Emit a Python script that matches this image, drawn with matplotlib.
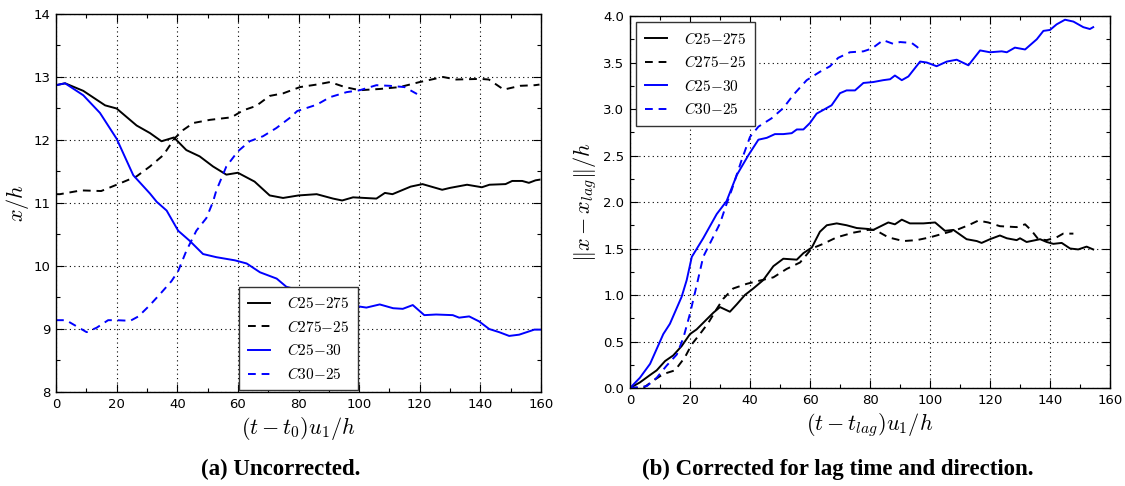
import matplotlib
matplotlib.use("Agg")
import matplotlib.pyplot as plt
from matplotlib.ticker import MultipleLocator, FormatStrFormatter

plt.rcParams['mathtext.fontset'] = 'cm'
plt.rcParams['font.family'] = ['DejaVu Sans']

# ---------------- Panel (a): uncorrected ----------------
a_c25_275_x = [0, 3, 9, 16.2, 20, 26.6, 31, 34.8, 38.9, 43, 47.4, 51.8, 56.2, 60, 65.5, 70.5, 74.9,
               80, 86, 91.4, 94.4, 98, 105.7, 108.5, 111, 117, 120.9, 127.4, 130, 135.6, 140.5,
               143, 148.3, 150.5, 153.8, 156, 158.2, 159.5]
a_c25_275_y = [12.87, 12.9, 12.78, 12.55, 12.5, 12.23, 12.11, 11.98, 12.04, 11.84, 11.74, 11.58, 11.45,
               11.48, 11.34, 11.12, 11.08, 11.12, 11.14, 11.07, 11.04, 11.09, 11.07, 11.16, 11.14,
               11.26, 11.3, 11.21, 11.24, 11.29, 11.25, 11.29, 11.3, 11.35, 11.35, 11.32, 11.36, 11.37]

a_c275_25_x = [0, 1.3, 8.3, 14.9, 20, 26.5, 31, 35.4, 39.2, 42, 45.3, 50.8, 57.9, 61.7, 66, 70.5, 74.9,
               80.5, 86, 90.4, 95.3, 100.2, 106.8, 113.4, 120, 127.7, 132, 140, 142.8, 147.7, 153.1, 158, 159.5]
a_c275_25_y = [11.14, 11.14, 11.2, 11.19, 11.29, 11.42, 11.58, 11.76, 12.03, 12.16, 12.27, 12.32, 12.36,
               12.47, 12.54, 12.7, 12.74, 12.84, 12.88, 12.92, 12.84, 12.79, 12.81, 12.84, 12.92, 13.0,
               12.96, 12.97, 12.96, 12.8, 12.86, 12.87, 12.88]

a_c25_30_x = [0, 3, 9, 14.5, 20, 25.5, 31, 33.2, 36.5, 40.3, 44.1, 48.5, 52.9, 59, 62.9, 67.3, 72.8, 76,
              80, 85, 90, 95, 99.6, 102.4, 106.8, 111.2, 114.4, 117.7, 121.5, 125.4, 130.9, 133, 136.3,
              139.6, 142.9, 146.2, 149.5, 152.8, 157.8, 160]
a_c25_30_y = [12.87, 12.9, 12.71, 12.43, 12.02, 11.44, 11.15, 11.02, 10.88, 10.56, 10.4, 10.19, 10.14,
              10.09, 10.04, 9.9, 9.8, 9.67, 9.62, 9.55, 9.48, 9.42, 9.36, 9.34, 9.39, 9.33, 9.32, 9.38,
              9.22, 9.23, 9.22, 9.18, 9.2, 9.12, 9.0, 8.95, 8.89, 8.91, 8.99, 8.99]

a_c30_25_x = [0, 3.3, 10.1, 13.4, 17.2, 20, 24.5, 27.2, 31, 34.8, 38.1, 40.3, 43, 46.3, 49.6, 51.8, 52.9,
              56.2, 60, 63.9, 68.3, 72.7, 77.1, 79.6, 86, 90.4, 95.9, 100.2, 105.7, 110.1, 115, 119.1]
a_c30_25_y = [9.14, 9.14, 8.95, 9.02, 9.14, 9.14, 9.13, 9.2, 9.38, 9.58, 9.76, 9.92, 10.24, 10.56, 10.76,
              11.02, 11.2, 11.58, 11.82, 11.98, 12.06, 12.19, 12.35, 12.46, 12.56, 12.68, 12.76, 12.79,
              12.87, 12.86, 12.84, 12.73]

# ---------------- Panel (b): corrected ----------------
b_c25_275_x = [0, 3.3, 6.7, 8.9, 11.7, 14.4, 17.2, 20, 22.2, 25, 27.8, 30, 33.3, 35.6, 38.3, 41.1, 44.4,
               47.8, 51.1, 55.6, 57.8, 60.6, 63.3, 65.6, 68.9, 72.2, 75.6, 79.4, 81.1, 86.1, 88.3, 90.6,
               93.3, 97.8, 101.7, 105, 107.8, 112.2, 115.6, 117.2, 120, 123.3, 125.6, 128.9, 130, 132.2,
               136.7, 138.9, 141.1, 143.9, 146.7, 149.4, 152.2, 154.4]
b_c25_275_y = [0.0, 0.06, 0.14, 0.19, 0.29, 0.35, 0.45, 0.58, 0.63, 0.72, 0.81, 0.87, 0.82, 0.9, 1.0,
               1.07, 1.16, 1.31, 1.39, 1.38, 1.45, 1.51, 1.68, 1.75, 1.77, 1.75, 1.72, 1.71, 1.7, 1.78,
               1.76, 1.81, 1.77, 1.77, 1.78, 1.69, 1.7, 1.6, 1.58, 1.56, 1.6, 1.64, 1.61, 1.59, 1.61,
               1.57, 1.6, 1.57, 1.55, 1.56, 1.5, 1.49, 1.52, 1.49]

b_c275_25_x = [0, 4.4, 7.8, 11.1, 15, 18.3, 20.6, 23.3, 26.1, 28.9, 31.1, 34.4, 38.9, 43.9, 47.8, 52.2,
               56.7, 60.6, 64.4, 68.9, 74.4, 79.4, 81.7, 86.1, 91.1, 95.6, 100, 104.4, 108.9, 112.8,
               116.1, 119.4, 123.3, 128.9, 131.7, 133.9, 136.1, 138.9, 142.2, 144.4, 147.8]
b_c275_25_y = [0.0, 0.0, 0.08, 0.15, 0.19, 0.33, 0.47, 0.58, 0.7, 0.85, 0.96, 1.07, 1.12, 1.16, 1.19,
               1.28, 1.35, 1.5, 1.55, 1.62, 1.67, 1.7, 1.7, 1.62, 1.58, 1.59, 1.62, 1.66, 1.7, 1.75,
               1.8, 1.78, 1.74, 1.73, 1.76, 1.69, 1.6, 1.59, 1.62, 1.66, 1.66]

b_c25_30_x = [0, 3.3, 6.7, 11.1, 13.3, 17.2, 18.9, 20.6, 24.4, 28.9, 32.2, 35.6, 39.4, 42.8, 45.6, 48.3,
              51.1, 53.9, 55.6, 57.8, 60, 62.2, 65, 67.2, 70, 72.2, 75, 77.8, 81.1, 84.4, 86.7, 88.3,
              90.6, 92.8, 96.7, 98.9, 102.2, 105.6, 108.9, 112.8, 116.7, 120, 123.9, 125.6, 128.3,
              131.7, 135.6, 137.8, 140, 142.2, 145, 147.8, 151.1, 153.3, 154.4]
b_c25_30_y = [0.0, 0.11, 0.26, 0.58, 0.69, 0.98, 1.16, 1.41, 1.61, 1.87, 2.01, 2.29, 2.5, 2.67, 2.69,
              2.73, 2.73, 2.74, 2.78, 2.78, 2.85, 2.95, 3.0, 3.04, 3.17, 3.2, 3.2, 3.28, 3.29, 3.31, 3.32,
              3.36, 3.31, 3.35, 3.51, 3.5, 3.46, 3.51, 3.53, 3.47, 3.63, 3.61, 3.62, 3.61, 3.66, 3.64,
              3.75, 3.84, 3.85, 3.91, 3.96, 3.94, 3.88, 3.86, 3.88]

b_c30_25_x = [0, 5.6, 8.9, 12.2, 15.6, 17.8, 20, 22.2, 24.4, 27.2, 30, 32.2, 33.9, 37.2, 40, 42.8, 47.2,
              51.1, 54.4, 58.9, 63.3, 66.7, 69.4, 73.3, 77.8, 80.6, 84.4, 87.8, 90, 93.9, 95.6, 97.4]
b_c30_25_y = [0.0, 0.02, 0.11, 0.24, 0.36, 0.54, 0.8, 1.1, 1.41, 1.59, 1.77, 1.98, 2.13, 2.45, 2.7, 2.81,
              2.9, 3.01, 3.15, 3.31, 3.4, 3.46, 3.55, 3.61, 3.62, 3.65, 3.74, 3.7, 3.72, 3.71, 3.67, 3.62]

labels = [r'$C25{-}275$', r'$C275{-}25$', r'$C25{-}30$', r'$C30{-}25$']
captions = ['(a) Uncorrected.', '(b) Corrected for lag time and direction.']

W, H = 1125, 486
fig = plt.figure(figsize=(W / 100, H / 100), dpi=100)
axA = fig.add_axes([56 / W, 1 - 392 / H, 485 / W, 378 / H])
axB = fig.add_axes([630 / W, 1 - 388 / H, 480 / W, 372 / H])

lw = 1.4
dash = (0, (4, 3))
for ax, data in ((axA, [(a_c25_275_x, a_c25_275_y), (a_c275_25_x, a_c275_25_y),
                        (a_c25_30_x, a_c25_30_y), (a_c30_25_x, a_c30_25_y)]),
                 (axB, [(b_c25_275_x, b_c25_275_y), (b_c275_25_x, b_c275_25_y),
                        (b_c25_30_x, b_c25_30_y), (b_c30_25_x, b_c30_25_y)])):
    styles = [('black', '-'), ('black', dash), ('blue', '-'), ('blue', dash)]
    for (x, y), (c, ls), lab in zip(data, styles, labels):
        ax.plot(x, y, color=c, linestyle=ls, lw=lw, label=lab)
    ax.grid(True, which='major', color='black', linestyle=(0, (1, 3)), linewidth=0.8)
    ax.tick_params(which='both', direction='in', top=True, right=True, labelsize=9.5, pad=4)
    ax.tick_params(which='major', length=6, width=0.8)
    ax.tick_params(which='minor', length=3, width=0.8)
    ax.set_xlim(0, 160)
    ax.xaxis.set_major_locator(MultipleLocator(20))
    ax.xaxis.set_minor_locator(MultipleLocator(10))
    for s in ax.spines.values():
        s.set_linewidth(1.0)

axA.set_ylim(8, 14)
axA.yaxis.set_major_locator(MultipleLocator(1))
axA.yaxis.set_minor_locator(MultipleLocator(0.5))
axB.set_ylim(0, 4)
axB.yaxis.set_major_locator(MultipleLocator(0.5))
axB.yaxis.set_minor_locator(MultipleLocator(0.25))
axB.yaxis.set_major_formatter(FormatStrFormatter('%.1f'))

axA.set_xlabel(r'$(t-t_0)u_1/h$', fontsize=16, labelpad=3)
axA.set_ylabel(r'$x/h$', fontsize=16, labelpad=2)
axB.set_xlabel(r'$(t-t_{lag})u_1/h$', fontsize=16, labelpad=3)
axB.set_ylabel(r'$\|x-x_{lag}\|/h$', fontsize=16, labelpad=3)

legkw = dict(fontsize=11, fancybox=False, framealpha=1, edgecolor='#333333',
             handlelength=1.5, handletextpad=1.1, borderpad=0.55, labelspacing=0.5)
lgA = axA.legend(loc='lower center', bbox_to_anchor=(0.5, 0.0), borderaxespad=0.1, **legkw)
lgB = axB.legend(loc='upper left', borderaxespad=0.4, **legkw)
for lg in (lgA, lgB):
    lg.get_frame().set_linewidth(1.0)

fig.text(281 / W, 1 - 469 / H, captions[0], ha='center', va='center',
         family='Liberation Serif', fontweight='bold', fontsize=16.5)
fig.text(838 / W, 1 - 469 / H, captions[1], ha='center', va='center',
         family='Liberation Serif', fontweight='bold', fontsize=16.5)

fig.savefig('out.png', dpi=100)
